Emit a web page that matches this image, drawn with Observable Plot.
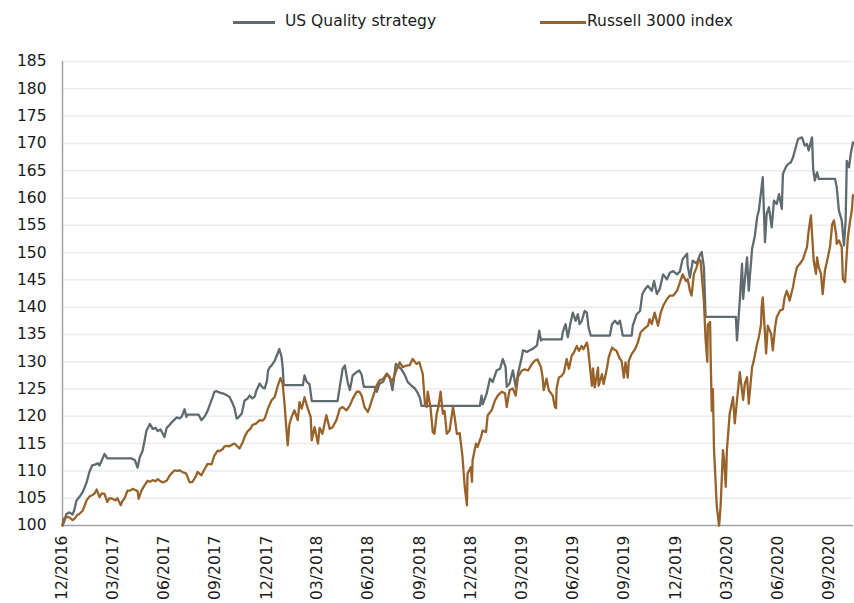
<!DOCTYPE html>
<html>
<head>
<meta charset="utf-8">
<script src="https://cdn.jsdelivr.net/npm/d3@7"></script>
<script src="https://cdn.jsdelivr.net/npm/@observablehq/plot@0.6"></script>
<style>
  html, body { margin: 0; padding: 0; background: #fff; }
  #wrap { width: 854px; height: 603px; position: relative; overflow: hidden; }
  #legend { position: relative; height: 44px; font-family: "DejaVu Sans", sans-serif; font-size: 15.5px; color: #1a1a1a; }
  #legend .sw { position: absolute; top: 21px; height: 3px; }
  #legend .lab { position: absolute; top: 12px; line-height: 18px; white-space: nowrap; }
  svg { display: block; }
</style>
</head>
<body>
<div id="wrap">
  <div id="legend"></div>
  <div id="chart"></div>
</div>
<script>
const seriesNames = ["US Quality strategy", "Russell 3000 index"];
const seriesColors = ["#5f6b6f", "#97632a"];

const yTicks = [100, 105, 110, 115, 120, 125, 130, 135, 140, 145, 150, 155, 160, 165, 170, 175, 180, 185];
const tickDates = ["2016-12-31", "2017-03-31", "2017-06-30", "2017-09-30", "2017-12-31", "2018-03-31", "2018-06-30",
  "2018-09-30", "2018-12-31", "2019-03-31", "2019-06-30", "2019-09-30", "2019-12-31", "2020-03-31", "2020-06-30", "2020-09-30"];
const xDomain = ["2016-12-31", "2020-11-12"];

const qualityDates = [
  "2016-12-31","2017-01-04","2017-01-07","2017-01-12","2017-01-18","2017-01-21","2017-01-25","2017-01-30","2017-02-05","2017-02-12",
  "2017-02-17","2017-02-22","2017-02-28","2017-03-04","2017-03-07","2017-03-11","2017-03-16","2017-03-21","2017-05-03","2017-05-09",
  "2017-05-14","2017-05-18","2017-05-23","2017-05-30","2017-06-05","2017-06-10","2017-06-15","2017-06-19","2017-06-24","2017-06-28",
  "2017-07-01","2017-07-05","2017-07-10","2017-07-14","2017-07-23","2017-07-28","2017-08-01","2017-08-06","2017-08-09","2017-08-11",
  "2017-08-31","2017-09-05","2017-09-11","2017-09-16","2017-09-21","2017-09-25","2017-09-28","2017-10-02","2017-10-09","2017-10-16",
  "2017-10-25","2017-10-31","2017-11-03","2017-11-07","2017-11-10","2017-11-16","2017-11-21","2017-11-26","2017-11-30","2017-12-05",
  "2017-12-09","2017-12-12","2017-12-18","2017-12-23","2017-12-27","2017-12-31","2018-01-02","2018-01-05","2018-01-08","2018-01-14",
  "2018-01-19","2018-01-22","2018-01-26","2018-01-28","2018-01-30","2018-03-05","2018-03-08","2018-03-12","2018-03-17","2018-03-21",
  "2018-05-06","2018-05-10","2018-05-15","2018-05-19","2018-05-24","2018-05-28","2018-06-02","2018-06-09","2018-06-14","2018-06-18",
  "2018-06-22","2018-07-11","2018-07-15","2018-07-20","2018-07-26","2018-08-02","2018-08-07","2018-08-12","2018-08-18","2018-08-21",
  "2018-08-28","2018-09-03","2018-09-08","2018-09-15","2018-09-21","2018-09-26","2018-09-30","2018-10-03","2019-01-15","2019-01-18",
  "2019-01-20","2019-01-27","2019-02-02","2019-02-07","2019-02-14","2019-02-20","2019-02-25","2019-03-02","2019-03-04","2019-03-09",
  "2019-03-15","2019-03-20","2019-03-24","2019-03-31","2019-04-02","2019-04-09","2019-04-14","2019-04-20","2019-04-27","2019-05-01",
  "2019-05-04","2019-05-06","2019-06-10","2019-06-12","2019-06-17","2019-06-21","2019-06-26","2019-06-30","2019-07-05","2019-07-09",
  "2019-07-12","2019-07-16","2019-07-21","2019-07-25","2019-07-28","2019-08-01","2019-09-04","2019-09-08","2019-09-13","2019-09-18",
  "2019-09-22","2019-09-25","2019-09-27","2019-10-13","2019-10-15","2019-10-22","2019-10-28","2019-11-01","2019-11-06","2019-11-11",
  "2019-11-18","2019-11-22","2019-11-27","2019-12-02","2019-12-08","2019-12-15","2019-12-20","2019-12-26","2020-01-02","2020-01-07",
  "2020-01-12","2020-01-20","2020-01-21","2020-01-25","2020-01-30","2020-02-06","2020-02-12","2020-02-15","2020-02-19","2020-02-22",
  "2020-04-16","2020-04-18","2020-04-23","2020-04-27","2020-04-29","2020-05-02","2020-05-06","2020-05-09","2020-05-15","2020-05-20",
  "2020-05-24","2020-05-27","2020-06-01","2020-06-03","2020-06-07","2020-06-10","2020-06-14","2020-06-19","2020-06-23","2020-06-28",
  "2020-07-02","2020-07-07","2020-07-09","2020-07-14","2020-07-18","2020-07-23","2020-07-27","2020-08-01","2020-08-05","2020-08-12",
  "2020-08-17","2020-08-21","2020-08-24","2020-08-30","2020-09-01","2020-09-04","2020-09-08","2020-09-11","2020-10-10","2020-10-13",
  "2020-10-17","2020-10-22","2020-10-26","2020-10-29","2020-10-31","2020-11-04","2020-11-07","2020-11-11"
];
const qualityValues = [
  100.0,101.0,102.1,102.4,102.0,102.8,104.6,105.2,106.1,107.9,
  109.8,111.0,111.2,111.4,111.0,111.9,113.1,112.3,112.3,112.0,
  110.6,112.5,113.7,117.4,118.6,117.7,117.9,117.3,117.6,116.8,
  116.2,117.9,118.4,118.9,119.8,119.6,120.0,121.3,119.9,120.3,
  120.3,119.3,120.0,121.0,122.4,123.5,124.5,124.6,124.3,124.1,
  123.6,122.3,121.5,119.6,119.8,120.5,122.9,123.2,123.8,123.3,
  123.6,124.7,126.0,125.3,125.1,126.5,128.4,129.0,129.3,130.2,
  131.5,132.3,130.9,129.0,125.7,125.7,127.5,126.3,125.9,122.8,
  122.8,125.4,128.7,129.3,126.3,124.8,127.5,128.1,128.4,127.6,
  125.4,125.4,124.5,126.0,126.3,127.8,127.2,124.8,129.6,129.3,
  128.6,127.6,126.3,125.6,125.1,124.3,123.4,121.9,121.9,123.8,
  122.2,124.1,126.9,126.3,128.4,128.7,130.5,129.0,125.4,126.0,
  128.4,125.4,127.8,130.9,132.1,131.8,132.1,132.4,133.0,135.7,
  133.9,134.1,134.1,135.4,136.9,134.5,137.2,139.0,137.5,138.7,
  136.9,137.5,139.3,139.0,136.3,134.8,134.8,136.9,137.5,136.9,
  137.5,136.0,134.8,134.8,136.6,138.7,139.3,142.4,143.3,143.9,
  143.0,144.8,142.4,143.3,146.0,145.1,146.3,146.6,146.0,146.5,
  148.8,149.8,147.6,145.4,148.5,148.0,149.6,150.1,147.3,138.2,
  138.2,133.9,141.2,147.9,141.5,144.9,149.1,143.0,150.7,153.1,
  156.5,157.7,162.0,163.8,151.9,157.1,158.3,154.6,159.5,158.9,
  160.7,158.0,164.4,165.6,166.2,166.5,167.4,169.3,170.8,171.1,
  169.6,169.9,168.7,171.1,165.3,163.2,164.7,163.5,163.5,162.0,
  157.7,155.9,151.3,155.9,166.8,165.6,168.0,170.2
];

const russellDates = [
  "2016-12-31","2017-01-02","2017-01-07","2017-01-12","2017-01-18","2017-01-21","2017-01-27","2017-01-30","2017-02-05","2017-02-08",
  "2017-02-12","2017-02-17","2017-02-21","2017-02-26","2017-03-02","2017-03-07","2017-03-11","2017-03-16","2017-03-21","2017-03-25",
  "2017-03-30","2017-04-05","2017-04-08","2017-04-14","2017-04-17","2017-04-21","2017-04-26","2017-05-01","2017-05-05","2017-05-10",
  "2017-05-14","2017-05-16","2017-05-21","2017-05-26","2017-06-01","2017-06-05","2017-06-10","2017-06-15","2017-06-19","2017-06-24",
  "2017-06-28","2017-07-05","2017-07-10","2017-07-16","2017-07-19","2017-07-24","2017-07-28","2017-08-02","2017-08-09","2017-08-15",
  "2017-08-20","2017-08-26","2017-08-29","2017-09-05","2017-09-11","2017-09-16","2017-09-23","2017-09-28","2017-10-04","2017-10-07",
  "2017-10-13","2017-10-16","2017-10-22","2017-10-25","2017-10-31","2017-11-03","2017-11-07","2017-11-12","2017-11-18","2017-11-21",
  "2017-11-26","2017-12-02","2017-12-05","2017-12-12","2017-12-18","2017-12-23","2017-12-27","2018-01-02","2018-01-08","2018-01-14",
  "2018-01-19","2018-01-24","2018-01-28","2018-02-01","2018-02-02","2018-02-06","2018-02-09","2018-02-13","2018-02-18","2018-02-24",
  "2018-02-27","2018-03-03","2018-03-08","2018-03-14","2018-03-19","2018-03-21","2018-03-26","2018-04-01","2018-04-04","2018-04-09",
  "2018-04-16","2018-04-22","2018-04-27","2018-05-04","2018-05-10","2018-05-15","2018-05-22","2018-05-28","2018-06-02","2018-06-09",
  "2018-06-14","2018-06-18","2018-06-23","2018-06-29","2018-07-02","2018-07-08","2018-07-15","2018-07-20","2018-07-26","2018-08-02",
  "2018-08-07","2018-08-12","2018-08-20","2018-08-25","2018-08-30","2018-09-06","2018-09-12","2018-09-17","2018-09-24","2018-09-29",
  "2018-10-05","2018-10-09","2018-10-12","2018-10-14","2018-10-19","2018-10-23","2018-10-26","2018-10-30","2018-11-02","2018-11-06",
  "2018-11-10","2018-11-13","2018-11-17","2018-11-22","2018-11-28","2018-12-01","2018-12-05","2018-12-10","2018-12-15","2018-12-19",
  "2018-12-23","2018-12-24","2018-12-30","2019-01-01","2019-01-02","2019-01-08","2019-01-11","2019-01-17","2019-01-20","2019-01-26",
  "2019-01-29","2019-02-05","2019-02-11","2019-02-16","2019-02-23","2019-03-01","2019-03-04","2019-03-09","2019-03-15","2019-03-20",
  "2019-03-24","2019-03-31","2019-04-05","2019-04-11","2019-04-18","2019-04-23","2019-04-28","2019-05-04","2019-05-07","2019-05-09",
  "2019-05-14","2019-05-18","2019-05-25","2019-05-29","2019-05-31","2019-06-01","2019-06-05","2019-06-10","2019-06-14","2019-06-19",
  "2019-06-23","2019-06-28","2019-07-02","2019-07-07","2019-07-11","2019-07-16","2019-07-19","2019-07-25","2019-07-27","2019-07-30",
  "2019-08-03","2019-08-05","2019-08-08","2019-08-14","2019-08-15","2019-08-21","2019-08-24","2019-08-30","2019-09-02","2019-09-08",
  "2019-09-11","2019-09-16","2019-09-22","2019-09-25","2019-09-29","2019-10-02","2019-10-06","2019-10-08","2019-10-13","2019-10-19",
  "2019-10-24","2019-10-29","2019-11-04","2019-11-11","2019-11-14","2019-11-18","2019-11-23","2019-11-29","2019-12-04","2019-12-08",
  "2019-12-15","2019-12-20","2019-12-26","2020-01-02","2020-01-07","2020-01-12","2020-01-18","2020-01-21","2020-01-25","2020-01-28",
  "2020-02-01","2020-02-06","2020-02-10","2020-02-13","2020-02-15","2020-02-19","2020-02-22","2020-02-25","2020-02-26","2020-03-01",
  "2020-03-02","2020-03-04","2020-03-06","2020-03-08","2020-03-11","2020-03-13","2020-03-17","2020-03-18","2020-03-20","2020-03-24",
  "2020-03-26","2020-03-29","2020-03-31","2020-04-05","2020-04-11","2020-04-14","2020-04-18","2020-04-23","2020-04-29","2020-05-02",
  "2020-05-06","2020-05-09","2020-05-15","2020-05-18","2020-05-24","2020-05-27","2020-05-31","2020-06-01","2020-06-03","2020-06-07",
  "2020-06-09","2020-06-12","2020-06-18","2020-06-21","2020-06-25","2020-06-28","2020-07-04","2020-07-09","2020-07-12","2020-07-16",
  "2020-07-21","2020-07-27","2020-07-30","2020-08-03","2020-08-08","2020-08-14","2020-08-17","2020-08-21","2020-08-24","2020-08-28",
  "2020-08-30","2020-09-02","2020-09-06","2020-09-08","2020-09-11","2020-09-15","2020-09-18","2020-09-22","2020-09-26","2020-10-01",
  "2020-10-05","2020-10-08","2020-10-12","2020-10-13","2020-10-17","2020-10-22","2020-10-24","2020-10-28","2020-10-31","2020-11-02",
  "2020-11-06","2020-11-09","2020-11-11"
];
const russellValues = [
  100.0,101.2,101.6,101.5,101.0,101.2,102.0,102.1,102.7,103.5,
  104.6,105.3,105.5,105.8,106.6,105.2,105.9,105.8,104.3,105.0,
  104.9,104.6,105.0,103.7,104.5,105.0,106.4,106.4,106.7,106.5,
  106.3,104.9,106.4,107.3,108.2,108.0,108.3,108.1,108.5,108.1,
  107.9,108.2,109.1,109.8,110.1,110.0,110.1,109.8,109.5,107.9,
  108.0,109.0,109.8,109.2,110.4,111.3,111.2,112.8,113.7,113.6,
  114.0,114.5,114.6,114.5,114.9,115.0,114.6,114.1,115.3,116.2,
  117.2,117.8,118.4,118.7,119.3,119.2,119.6,121.5,122.9,123.6,
  125.5,127.0,126.0,121.5,119.9,114.7,118.5,119.9,121.1,119.3,
  122.6,121.4,123.5,121.4,119.9,115.6,118.0,115.0,117.9,116.8,
  120.2,117.7,118.0,119.3,121.4,121.7,121.1,122.0,123.2,124.5,
  124.5,123.8,121.7,120.8,121.6,123.5,125.7,126.6,126.8,127.8,
  127.0,126.5,128.7,129.9,129.0,129.3,129.4,130.5,129.6,129.9,
  127.8,122.3,121.7,124.5,121.5,117.1,116.8,120.5,121.7,124.5,
  120.5,121.0,116.8,117.4,121.7,119.9,116.8,116.9,112.6,107.1,
  103.7,109.5,110.7,108.0,111.9,115.0,114.4,116.2,117.4,117.1,
  120.2,121.1,122.9,123.8,124.5,124.2,121.7,124.8,125.1,123.8,
  127.2,128.4,128.6,128.4,129.6,130.2,130.4,129.0,127.2,124.8,
  126.9,124.8,123.8,121.7,121.5,125.0,127.1,127.4,128.0,130.5,
  128.7,131.1,131.7,132.9,132.0,132.9,132.3,133.5,132.6,129.6,
  125.6,128.8,125.3,128.9,125.6,127.7,125.9,128.9,130.8,132.6,
  132.3,132.0,130.5,130.2,127.1,129.9,127.1,130.2,131.4,132.3,
  133.5,135.4,136.0,136.6,137.8,136.9,139.0,136.6,139.0,140.2,
  141.5,142.1,142.1,143.0,144.5,146.0,144.8,145.1,143.0,142.1,
  146.0,147.3,148.8,148.5,146.0,141.0,134.0,130.0,136.8,137.3,
  131.0,121.0,125.0,114.0,107.7,103.4,100.0,101.0,104.0,113.8,
  112.0,107.1,113.8,120.5,123.5,118.7,122.9,128.1,123.0,126.0,
  127.2,122.3,129.0,130.2,133.3,134.5,136.9,140.0,141.8,135.1,
  131.5,136.6,135.1,132.1,136.3,138.2,139.4,139.6,141.8,143.0,
  141.2,143.7,145.5,147.3,147.9,148.8,149.8,151.0,154.0,156.8,
  153.4,148.5,146.1,149.1,147.3,146.1,142.4,146.7,148.5,151.0,
  155.2,155.9,153.4,151.6,152.2,151.0,145.2,144.6,149.8,152.8,
  155.9,157.7,160.5
];

// Legend (HTML, above the SVG)
const legendLayout = [{sw: 233, w: 42, lab: 285}, {sw: 540, w: 46, lab: 587}];
const legend = document.getElementById("legend");
seriesNames.forEach((name, i) => {
  const sw = document.createElement("span");
  sw.className = "sw";
  sw.style.left = legendLayout[i].sw + "px";
  sw.style.width = legendLayout[i].w + "px";
  sw.style.background = seriesColors[i];
  legend.appendChild(sw);
  const lab = document.createElement("span");
  lab.className = "lab";
  lab.style.left = legendLayout[i].lab + "px";
  lab.textContent = name;
  legend.appendChild(lab);
});

const quality = qualityDates.map((d, i) => ({date: new Date(d), value: qualityValues[i]}));
const russell = russellDates.map((d, i) => ({date: new Date(d), value: russellValues[i]}));
const xStart = new Date(xDomain[0]);

const chart = Plot.plot({
  width: 854,
  height: 559,
  marginTop: 17,
  marginRight: 1,
  marginBottom: 78,
  marginLeft: 62,
  style: {fontFamily: "DejaVu Sans, sans-serif", fontSize: "15.5px", color: "#1a1a1a", background: "#fff", overflow: "visible"},
  x: {
    type: "utc",
    domain: xDomain.map(d => new Date(d)),
    ticks: tickDates.map(d => new Date(d)),
    tickFormat: d3.utcFormat("%m/%Y"),
    tickRotate: -90,
    tickSize: 0,
    tickPadding: 10,
    label: null
  },
  y: {
    domain: [yTicks[0], yTicks[yTicks.length - 1]],
    ticks: yTicks,
    tickSize: 0,
    tickPadding: 16,
    label: null
  },
  marks: [
    Plot.ruleY(yTicks.slice(1), {stroke: "#ebebeb", strokeWidth: 1.5}),
    Plot.ruleX([xStart], {stroke: "#a3a3a3", strokeWidth: 1.5}),
    Plot.ruleY([yTicks[0]], {stroke: "#a3a3a3", strokeWidth: 1.5}),
    Plot.line(quality, {x: "date", y: "value", stroke: seriesColors[0], strokeWidth: 2.3, strokeLinejoin: "round"}),
    Plot.line(russell, {x: "date", y: "value", stroke: seriesColors[1], strokeWidth: 2.3, strokeLinejoin: "round"})
  ]
});
document.getElementById("chart").appendChild(chart);
</script>
</body>
</html>
